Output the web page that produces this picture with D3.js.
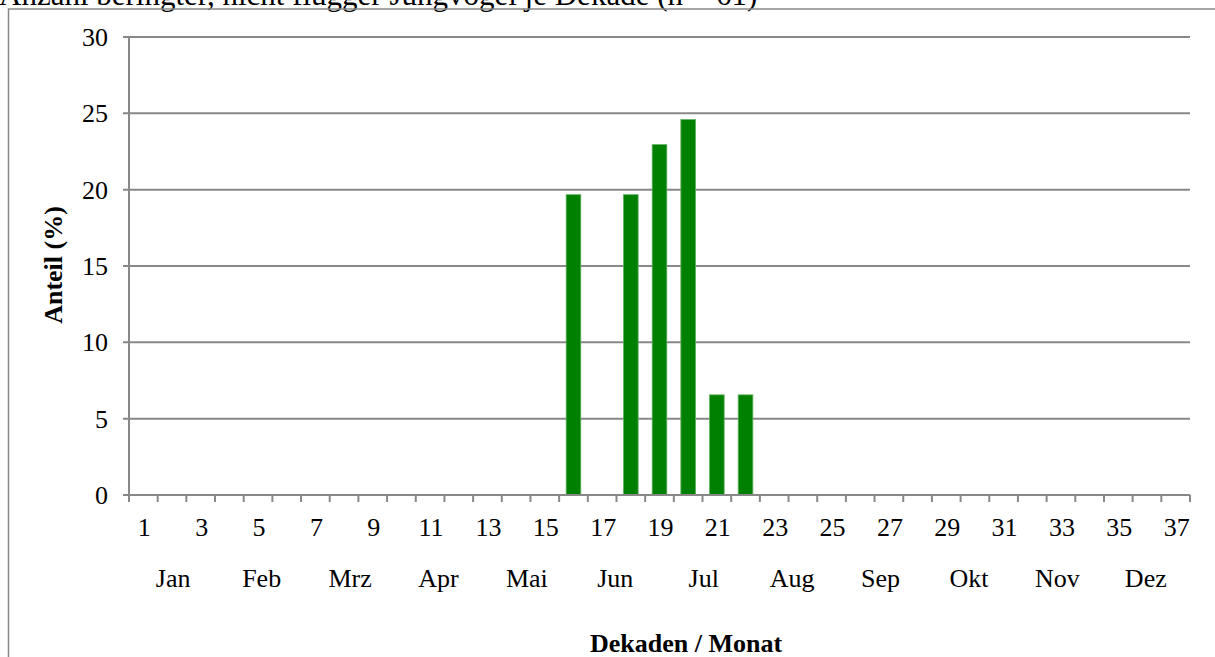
<!DOCTYPE html>
<html>
<head>
<meta charset="utf-8">
<script src="https://cdnjs.cloudflare.com/ajax/libs/d3/7.8.5/d3.min.js"></script>
<style>
	body { margin: 0; background: #fff; }
	svg { display: block; }
	text { font-family: 'Liberation Serif', 'Times New Roman', serif; fill: #000; }
</style>
</head>
<body>
<div id="chart"></div>
<script>
// Dekaden 1-37, Anteil in % (n = 61)
var decades = [1,2,3,4,5,6,7,8,9,10,11,12,13,14,15,16,17,18,19,20,21,22,23,24,25,26,27,28,29,30,31,32,33,34,35,36,37];
var values  = [0,0,0,0,0,0,0,0,0,0,0,0,0,0,0,19.67,0,19.67,22.95,24.59,6.56,6.56,0,0,0,0,0,0,0,0,0,0,0,0,0,0,0];
var decade_labels = [1,3,5,7,9,11,13,15,17,19,21,23,25,27,29,31,33,35,37];
var months  = ['Jan','Feb','Mrz','Apr','Mai','Jun','Jul','Aug','Sep','Okt','Nov','Dez'];
var y_ticks = [0,5,10,15,20,25,30];

var chart_width  = 1215;
var chart_height = 657;
var grey = '#888888';

var svg = d3.select('#chart')
	.append('svg')
	.attr('width', chart_width)
	.attr('height', chart_height);

// title (cut off at the top, as in the source picture)
svg.append('text')
	.attr('x', -1)
	.attr('y', 5)
	.attr('font-size', 31)
	.text('Anzahl beringter, nicht flügger Jungvögel je Dekade (n = 61)');

// outer frame
svg.append('rect')
	.attr('x', 8.5)
	.attr('y', 9)
	.attr('width', 1300)
	.attr('height', 800)
	.attr('fill', 'none')
	.attr('stroke', grey)
	.attr('stroke-width', 1.5);

// scales
var x_scale = d3.scaleBand()
	.domain(decades)
	.range([129, 1190])
	.paddingInner(0);

var month_scale = d3.scaleBand()
	.domain(months)
	.range([129, 1190]);

var y_scale = d3.scaleLinear()
	.domain([0, 30])
	.range([495, 37]);

// gridlines
svg.selectAll('.grid')
	.data(y_ticks)
	.enter()
	.append('line')
	.attr('x1', 123)
	.attr('x2', 1190)
	.attr('y1', function(d){ return y_scale(d); })
	.attr('y2', function(d){ return y_scale(d); })
	.attr('stroke', grey)
	.attr('stroke-width', 2);

// y axis line
svg.append('line')
	.attr('x1', 129).attr('x2', 129)
	.attr('y1', y_scale(30)).attr('y2', y_scale(0))
	.attr('stroke', grey)
	.attr('stroke-width', 2);

// y labels
svg.selectAll('.ylab')
	.data(y_ticks)
	.enter()
	.append('text')
	.attr('x', 108)
	.attr('y', function(d){ return y_scale(d) + 9; })
	.attr('text-anchor', 'end')
	.attr('font-size', 26)
	.text(function(d){ return d; });

// bars
var bar_w = x_scale.bandwidth() * 0.51;
svg.selectAll('.bar')
	.data(decades.map(function(d, i){ return { dec: d, val: values[i] }; })
		.filter(function(d){ return d.val > 0; }))
	.enter()
	.append('rect')
	.attr('class', 'bar')
	.attr('x', function(d){ return x_scale(d.dec) + (x_scale.bandwidth() - bar_w) / 2; })
	.attr('y', function(d){ return y_scale(d.val); })
	.attr('width', bar_w)
	.attr('height', function(d){ return y_scale(0) - y_scale(d.val); })
	.attr('fill', '#008000')
	.attr('stroke', '#5cae5c')
	.attr('stroke-width', 0.8);

// x axis line
svg.append('line')
	.attr('x1', 129).attr('x2', 1190)
	.attr('y1', y_scale(0)).attr('y2', y_scale(0))
	.attr('stroke', grey)
	.attr('stroke-width', 2);

// x tick marks on band edges
var edges = decades.map(function(d){ return x_scale(d); }).concat([x_scale.range()[1]]);
svg.selectAll('.xtick')
	.data(edges)
	.enter()
	.append('line')
	.attr('x1', function(d){ return d; })
	.attr('x2', function(d){ return d; })
	.attr('y1', y_scale(0))
	.attr('y2', y_scale(0) + 7)
	.attr('stroke', grey)
	.attr('stroke-width', 2);

// decade labels
svg.selectAll('.xlab')
	.data(decade_labels)
	.enter()
	.append('text')
	.attr('x', function(d){ return x_scale(d) + x_scale.bandwidth() / 2 + 1; })
	.attr('y', 536)
	.attr('text-anchor', 'middle')
	.attr('font-size', 26)
	.text(function(d){ return d; });

// month labels
svg.selectAll('.mlab')
	.data(months)
	.enter()
	.append('text')
	.attr('x', function(d){ return month_scale(d) + month_scale.bandwidth() / 2; })
	.attr('y', 587)
	.attr('text-anchor', 'middle')
	.attr('font-size', 26)
	.text(function(d){ return d; });

// axis titles
svg.append('text')
	.attr('x', 686)
	.attr('y', 652)
	.attr('text-anchor', 'middle')
	.attr('font-size', 26)
	.attr('font-weight', 'bold')
	.text('Dekaden / Monat');

svg.append('text')
	.attr('transform', 'translate(62,265) rotate(-90)')
	.attr('text-anchor', 'middle')
	.attr('font-size', 26)
	.attr('font-weight', 'bold')
	.text('Anteil (%)');
</script>
</body>
</html>
